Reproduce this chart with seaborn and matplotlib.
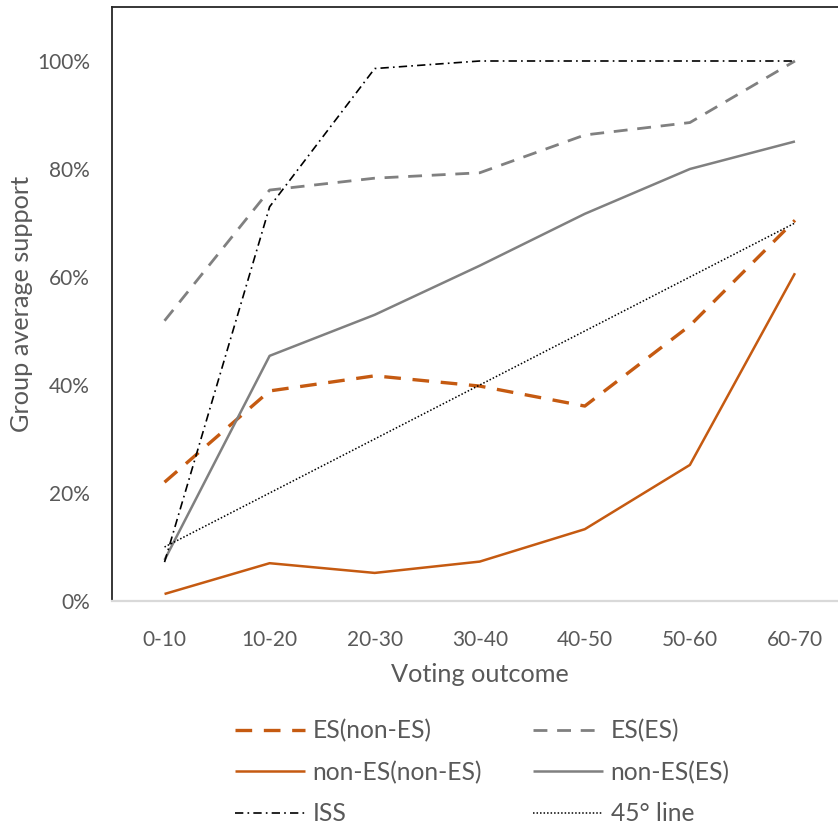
import matplotlib
matplotlib.use("Agg")
import matplotlib.pyplot as plt
import seaborn as sns
from matplotlib.ticker import PercentFormatter

sns.set_style("white")
plt.rcParams["font.family"] = ["Lato", "DejaVu Sans"]

# ── Data ─────────────────────────────────────────────────────────────────
OUTCOMES = ["0-10", "10-20", "20-30", "30-40", "40-50", "50-60", "60-70"]
es_nones = [0.22, 0.389, 0.417, 0.398, 0.361, 0.51, 0.705]
es_es = [0.519, 0.761, 0.783, 0.793, 0.863, 0.886, 1.00]
nones_nones = [0.013, 0.070, 0.052, 0.073, 0.133, 0.252, 0.607]
nones_es = [0.076, 0.454, 0.530, 0.621, 0.717, 0.800, 0.851]
iss = [0.072, 0.73, 0.986, 1.00, 1.00, 1.00, 1.00]
line45 = [0.10, 0.20, 0.30, 0.40, 0.50, 0.60, 0.70]

ORANGE = "#C55A11"
GREY = "#808080"
TXT = "#595959"

SERIES = [
    # name, values, color, lw, dashes (None = solid)
    ("ES(non-ES)", es_nones, ORANGE, 2.4, (5, 3.5)),
    ("ES(ES)", es_es, GREY, 2.0, (5, 3.5)),
    ("non-ES(non-ES)", nones_nones, ORANGE, 1.8, None),
    ("non-ES(ES)", nones_es, GREY, 1.8, None),
    ("ISS", iss, "black", 1.2, (5, 2.5, 1, 2.5)),
    ("45° line", line45, "black", 1.1, (1, 1.3)),
]

fig = plt.figure(figsize=(8.38, 8.25), dpi=100)
ax = fig.add_axes([112 / 838, 224 / 825, 735.5 / 838, 594 / 825])

lines = {}
for name, vals, col, lw, dash in SERIES:
    sns.lineplot(x=OUTCOMES, y=vals, ax=ax, color=col, linewidth=lw, sort=False)
    ln = ax.lines[-1]
    if dash is not None:
        ln.set_dashes(dash)
    ln.set_solid_capstyle("butt")
    ln.set_dash_capstyle("butt")
    lines[name] = ln

ax.set_xlim(-0.5, 6.5)
ax.set_ylim(0, 1.1)
ax.set_yticks([0, 0.2, 0.4, 0.6, 0.8, 1.0])
ax.yaxis.set_major_formatter(PercentFormatter(1.0, decimals=0))
ax.tick_params(axis="both", length=0, labelsize=15, labelcolor=TXT)
ax.tick_params(axis="x", pad=21)
ax.tick_params(axis="y", pad=16)

ax.set_xlabel("Voting outcome", fontsize=18.2, color=TXT, labelpad=9)
ax.set_ylabel("Group average support", fontsize=18.2, color=TXT, labelpad=3)

for side in ["top", "left"]:
    ax.spines[side].set_color("#262626")
    ax.spines[side].set_linewidth(1.3)
ax.spines["bottom"].set_color("#D9D9D9")
ax.spines["bottom"].set_linewidth(1.6)
ax.spines["right"].set_visible(False)

# legend, row-wise order via column-major filling
order = ["ES(non-ES)", "non-ES(non-ES)", "ISS", "ES(ES)", "non-ES(ES)", "45° line"]
leg = fig.legend([lines[n] for n in order], order, ncol=2, loc="upper left",
                 bbox_to_anchor=(235 / 838, 1 - 719 / 825), frameon=False,
                 borderpad=0, borderaxespad=0,
                 fontsize=17.7, handlelength=2.85, handletextpad=0.3,
                 columnspacing=2.08, labelspacing=0.75, labelcolor=TXT)

fig.savefig("out.png", dpi=100)
